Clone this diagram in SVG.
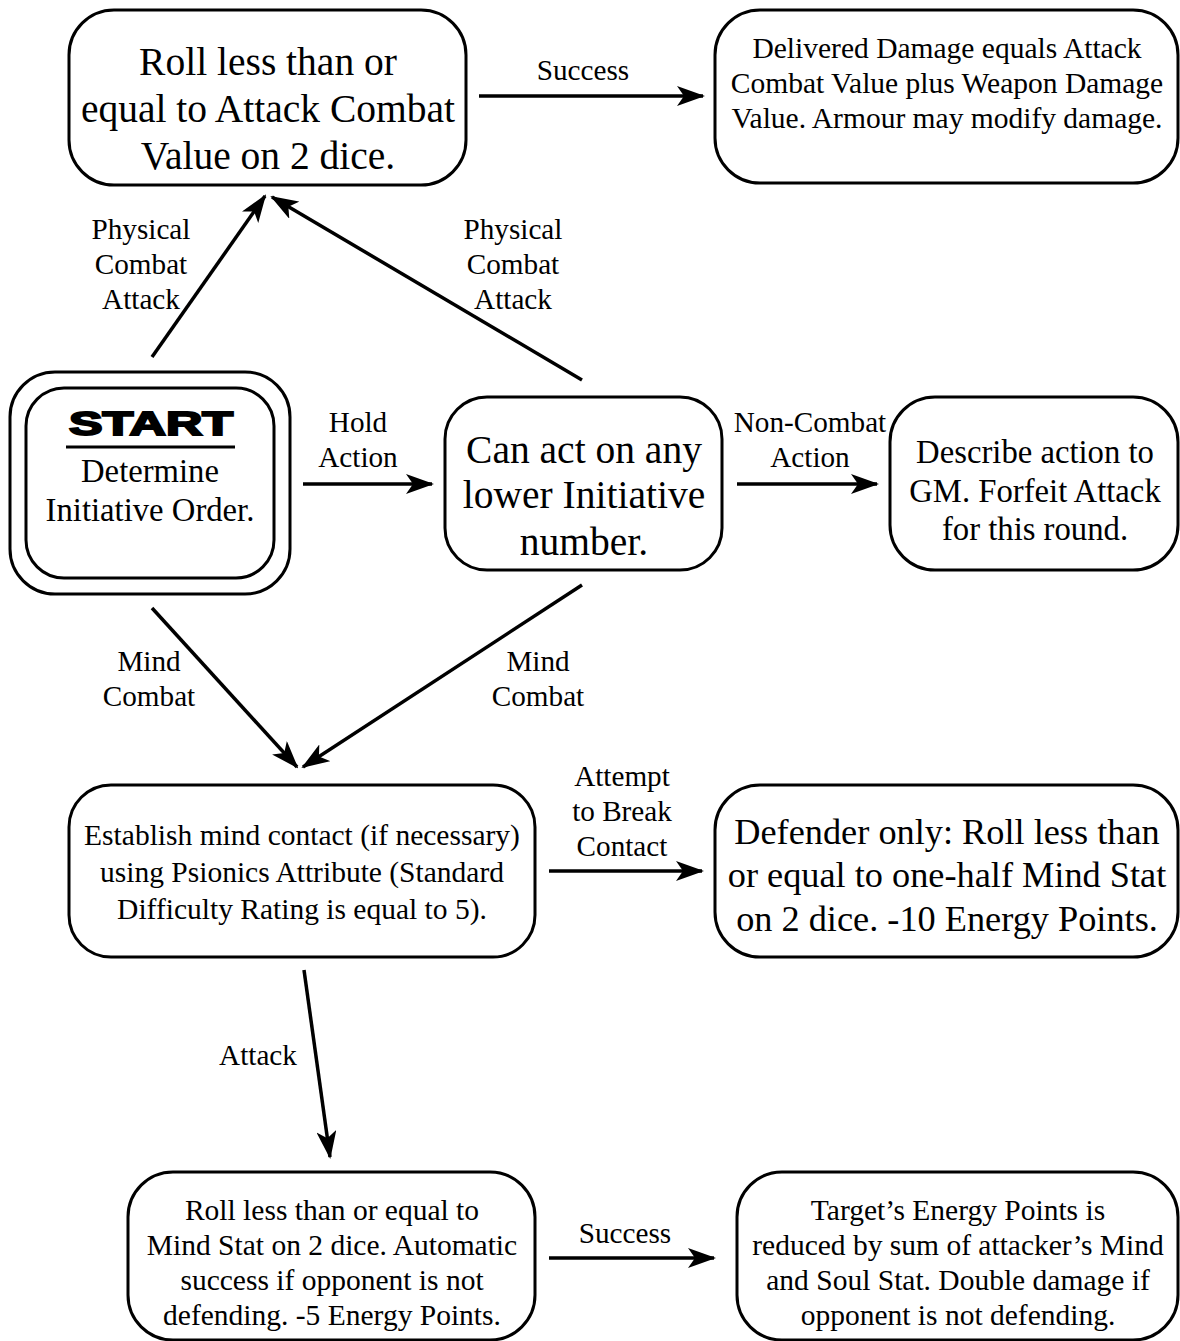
<svg xmlns="http://www.w3.org/2000/svg" width="1180" height="1341" viewBox="0 0 1180 1341" font-family="Liberation Serif, Times New Roman, serif">
<style>
.box{fill:#fff;stroke:#000;stroke-width:3}
.t{fill:#000;text-anchor:middle}
.big{font-size:39.5px}
.mid{font-size:32.7px}
.sm{font-size:29.5px}
.lbl{font-size:29.2px}
.c line{stroke:#000;stroke-width:3.5;marker-end:url(#ah)}
</style>
<defs>
<marker id="ah" markerUnits="userSpaceOnUse" markerWidth="28" markerHeight="20" viewBox="0 0 28 20" refX="26" refY="10" orient="auto">
<path d="M0,0 L28,10 L0,20 L7,10 z" fill="#000"/>
</marker>
</defs>
<rect width="1180" height="1341" fill="#fff"/>
<g id="nodeA">
<rect class="box" x="69" y="10" width="397" height="175" rx="45"/>
<text class="t big" x="268" y="75">Roll less than or</text>
<text class="t big" x="268" y="122">equal to Attack Combat</text>
<text class="t big" x="268" y="169">Value on 2 dice.</text>
</g>
<g id="nodeB">
<rect class="box" x="715" y="10" width="463" height="173" rx="45"/>
<text class="t sm" x="947" y="58">Delivered Damage equals Attack</text>
<text class="t sm" x="947" y="93">Combat Value plus Weapon Damage</text>
<text class="t sm" x="947" y="128">Value. Armour may modify damage.</text>
</g>
<g id="start">
<rect class="box" x="10" y="372" width="280" height="222" rx="45"/>
<rect class="box" x="26" y="388" width="248" height="190" rx="38"/>
<text x="151" y="435" font-family="Liberation Sans, Arial, sans-serif" font-weight="bold" font-size="34" text-anchor="middle" stroke="#000" stroke-width="2" textLength="164" lengthAdjust="spacingAndGlyphs">START</text>
<line x1="66" y1="447" x2="235" y2="447" stroke="#000" stroke-width="3"/>
<text class="t mid" x="150" y="482">Determine</text>
<text class="t mid" x="150" y="521">Initiative Order.</text>
</g>
<g id="nodeC">
<rect class="box" x="445" y="397" width="277" height="173" rx="42"/>
<text class="t big" x="584" y="463">Can act on any</text>
<text class="t big" x="584" y="508">lower Initiative</text>
<text class="t big" x="584" y="555">number.</text>
</g>
<g id="nodeD">
<rect class="box" x="890" y="397" width="288" height="173" rx="45"/>
<text class="t mid" x="1035" y="463">Describe action to</text>
<text class="t mid" x="1035" y="502">GM. Forfeit Attack</text>
<text class="t mid" x="1035" y="540">for this round.</text>
</g>
<g id="nodeE">
<rect class="box" x="69" y="785" width="466" height="172" rx="42"/>
<text class="t sm" x="302" y="845">Establish mind contact (if necessary)</text>
<text class="t sm" x="302" y="882">using Psionics Attribute (Standard</text>
<text class="t sm" x="302" y="919">Difficulty Rating is equal to 5).</text>
</g>
<g id="nodeF">
<rect class="box" x="715" y="785" width="463" height="172" rx="45"/>
<text class="t" font-size="36.3" x="947" y="844">Defender only: Roll less than</text>
<text class="t" font-size="36.3" x="947" y="887">or equal to one-half Mind Stat</text>
<text class="t" font-size="36.3" x="947" y="931">on 2 dice. -10 Energy Points.</text>
</g>
<g id="nodeG">
<rect class="box" x="128" y="1172" width="407" height="168" rx="45"/>
<text class="t sm" x="332" y="1220">Roll less than or equal to</text>
<text class="t sm" x="332" y="1255">Mind Stat on 2 dice. Automatic</text>
<text class="t sm" x="332" y="1290">success if opponent is not</text>
<text class="t sm" x="332" y="1325">defending. -5 Energy Points.</text>
</g>
<g id="nodeH">
<rect class="box" x="737" y="1172" width="441" height="168" rx="45"/>
<text class="t sm" x="958" y="1220">Target’s Energy Points is</text>
<text class="t sm" x="958" y="1255">reduced by sum of attacker’s Mind</text>
<text class="t sm" x="958" y="1290">and Soul Stat. Double damage if</text>
<text class="t sm" x="958" y="1325">opponent is not defending.</text>
</g>
<g id="connectors" class="c">
<line x1="479" y1="96" x2="703" y2="96"/>
<line x1="152" y1="357" x2="265" y2="196"/>
<line x1="582" y1="380" x2="272" y2="197"/>
<line x1="303" y1="484" x2="432" y2="484"/>
<line x1="737" y1="484" x2="877" y2="484"/>
<line x1="152" y1="608" x2="297" y2="767"/>
<line x1="582" y1="585" x2="303" y2="767"/>
<line x1="549" y1="871" x2="702" y2="871"/>
<line x1="304" y1="970" x2="330" y2="1157"/>
<line x1="549" y1="1258" x2="714" y2="1258"/>
</g>
<g id="labels">
<text class="t lbl" x="583" y="80">Success</text>
<text class="t lbl" x="141" y="239">Physical</text>
<text class="t lbl" x="141" y="274">Combat</text>
<text class="t lbl" x="141" y="309">Attack</text>
<text class="t lbl" x="513" y="239">Physical</text>
<text class="t lbl" x="513" y="274">Combat</text>
<text class="t lbl" x="513" y="309">Attack</text>
<text class="t lbl" x="358" y="432">Hold</text>
<text class="t lbl" x="358" y="467">Action</text>
<text class="t lbl" x="810" y="432">Non-Combat</text>
<text class="t lbl" x="810" y="467">Action</text>
<text class="t lbl" x="149" y="671">Mind</text>
<text class="t lbl" x="149" y="706">Combat</text>
<text class="t lbl" x="538" y="671">Mind</text>
<text class="t lbl" x="538" y="706">Combat</text>
<text class="t lbl" x="622" y="786">Attempt</text>
<text class="t lbl" x="622" y="821">to Break</text>
<text class="t lbl" x="622" y="856">Contact</text>
<text class="t lbl" x="258" y="1065">Attack</text>
<text class="t lbl" x="625" y="1243">Success</text>
</g>
</svg>
